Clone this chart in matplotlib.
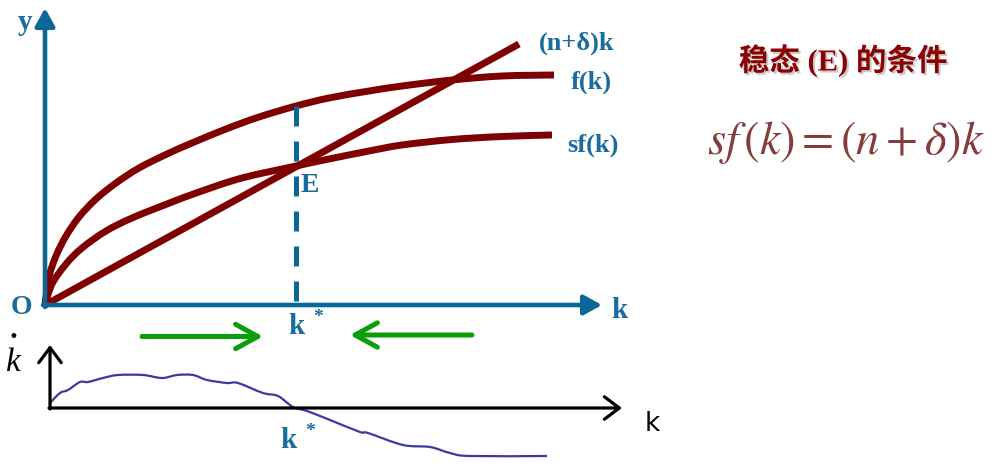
import matplotlib
matplotlib.use("Agg")
import matplotlib.pyplot as plt
import matplotlib.patheffects as pe
from matplotlib.path import Path
from matplotlib.patches import PathPatch

plt.rcParams['mathtext.fontset'] = 'stix'

# ---- data (main diagram: k vs output) ----
f_k = [0, 4, 11, 21, 34, 51, 71, 94, 122, 147, 181, 214, 251, 284, 324, 357, 407, 457, 509]
f_y = [0, 28, 49, 69, 88, 106, 122, 137, 151, 162, 176, 188, 199, 207, 214, 219, 225, 229, 230]

sf_k = [0, 7, 21, 37, 61, 87, 122, 154, 197, 251, 284, 324, 357, 407, 457, 507]
sf_y = [0, 21, 41, 57, 74, 87, 101, 113, 127, 139, 146, 154, 160, 165.5, 168.5, 170]

dep_k = [0, 474]
dep_y = [0, 261]

k_star = 251
f_at_kstar = 199

# ---- data (lower diagram: k-dot vs k) ----
kd_x = [0, 10, 18, 30, 38, 53, 68, 93, 112, 127, 143, 157, 177, 188, 213, 228, 243,
        257, 280, 310, 318, 353, 380, 400, 420, 497]
kd_y = [5, 15, 18, 26, 26, 30, 33, 33, 30, 33, 33, 28, 25, 25, 15, 12, 1,
        -3, -12, -24, -25, -37, -39, -45, -48, -48]

# ---- styles ----
RED = '#7f0000'
BLUE_AX = '#0a6796'
BLUE_TX = '#1a6c9c'
GREEN = '#0a9e0a'
KD_BLUE = '#3a3aa0'
SERIF = 'Liberation Serif'


def smooth_path(xs, ys):
    """Bezier path passing through the given points (Catmull-Rom tangents)."""
    pts = list(zip(xs, ys))
    n = len(pts)
    verts = [pts[0]]
    codes = [Path.MOVETO]
    for i in range(n - 1):
        p0 = pts[i - 1] if i > 0 else pts[i]
        p1 = pts[i]
        p2 = pts[i + 1]
        p3 = pts[i + 2] if i + 2 < n else pts[i + 1]
        c1 = (p1[0] + (p2[0] - p0[0]) / 6.0, p1[1] + (p2[1] - p0[1]) / 6.0)
        c2 = (p2[0] - (p3[0] - p1[0]) / 6.0, p2[1] - (p3[1] - p1[1]) / 6.0)
        verts += [c1, c2, p2]
        codes += [Path.CURVE4] * 3
    return Path(verts, codes)


fig = plt.figure(figsize=(9.93, 4.70), dpi=100)

ax = fig.add_axes([0, 0, 1, 1])
ax.set_xlim(-45, 948)
ax.set_ylim(-165, 305)
ax.axis('off')

ax2 = fig.add_axes([0, 0, 1, 1])
ax2.set_xlim(-50, 943)
ax2.set_ylim(-62, 408)
ax2.axis('off')
ax2.patch.set_alpha(0)

# main axes arrows
ap_blue = dict(arrowstyle='-|>,head_length=0.4,head_width=0.22', lw=3.3, color=BLUE_AX,
               mutation_scale=27, shrinkA=0, shrinkB=0)
ax.annotate('', xy=(557, 0), xytext=(-2, 0), arrowprops=ap_blue)
ax.annotate('', xy=(0, 297), xytext=(0, -2), arrowprops=ap_blue)

# dashed k* line
ax.plot([k_star, k_star], [f_at_kstar, 3], color=BLUE_AX, lw=3.6, dashes=(4, 3))

# curves
for xs, ys in [(f_k, f_y), (sf_k, sf_y)]:
    ax.add_patch(PathPatch(smooth_path(xs, ys), fill=False, edgecolor=RED, lw=5,
                           capstyle='butt', joinstyle='round'))
ax.plot(dep_k, dep_y, color=RED, lw=5, solid_capstyle='butt')

# labels in main diagram
tk = dict(color=BLUE_TX, fontfamily=SERIF, fontweight='bold')
ax.text(-19.5, 283, 'y', fontsize=21, ha='center', va='center', **tk)
ax.text(-24, -3, 'O', fontsize=20, ha='center', va='center', **tk)
ax.text(574, -5, 'k', fontsize=21, ha='center', va='center', **tk)
ax.text(494, 262, '(n+δ)k', fontsize=19, ha='left', va='center', **tk)
ax.text(526, 223, 'f(k)', fontsize=19, ha='left', va='center', **tk)
ax.text(522, 160, 'sf(k)', fontsize=19, ha='left', va='center', **tk)
ax.text(256, 119, 'E', fontsize=20, ha='left', va='center', **tk)
ax.text(243, -22, 'k', fontsize=21, ha='left', va='center', **tk)
ax.text(268, -12, '*', fontsize=14, ha='left', va='center', **tk)

# green arrows
ap_green = dict(arrowstyle='->,head_length=0.4,head_width=0.22', lw=3.6, color=GREEN,
                mutation_scale=40, shrinkA=0, shrinkB=0)
ax.annotate('', xy=(218, -31.5), xytext=(97, -31.5), arrowprops=ap_green)
ax.annotate('', xy=(305, -30), xytext=(427, -30), arrowprops=ap_green)

# lower diagram
ap_black = dict(arrowstyle='->,head_length=0.4,head_width=0.3', lw=2.3, color='black',
                mutation_scale=27, shrinkA=0, shrinkB=0)
ax2.annotate('', xy=(572, 0), xytext=(-1, 0), arrowprops=ap_black)
ax2.annotate('', xy=(0, 63), xytext=(0, -1), arrowprops=ap_black)
ax2.add_patch(PathPatch(smooth_path(kd_x, kd_y), fill=False, edgecolor=KD_BLUE, lw=1.6))

ax2.text(230, -33, 'k', fontsize=21, ha='left', va='center', **tk)
ax2.text(255, -23, '*', fontsize=14, ha='left', va='center', **tk)
ax2.text(602, -16, 'k', fontsize=19, ha='center', va='center', color='black', fontfamily='DejaVu Sans')
ax2.text(-37.5, 45, 'k', fontsize=24, ha='center', va='center', color='black',
         fontfamily=SERIF, fontstyle='italic')
ax2.text(-36.5, 71, '•', fontsize=12, ha='center', va='center', color='black', fontfamily='DejaVu Sans')

# right-hand texts
ax.text(798, 244, '稳态 (E) 的条件', fontsize=22, ha='center', va='center', color='#8b0000',
        fontfamily=[SERIF, 'Noto Sans CJK SC'], fontweight='bold',
        path_effects=[pe.withSimplePatchShadow(offset=(1.5, -1.5), shadow_rgbFace='#999999', alpha=0.5)])
ax.text(801, 162, r'$sf\,(k) = (n+\delta)k$', fontsize=33.5, ha='center', va='center', color='#843c3c')

fig.savefig('out.png', dpi=100)
